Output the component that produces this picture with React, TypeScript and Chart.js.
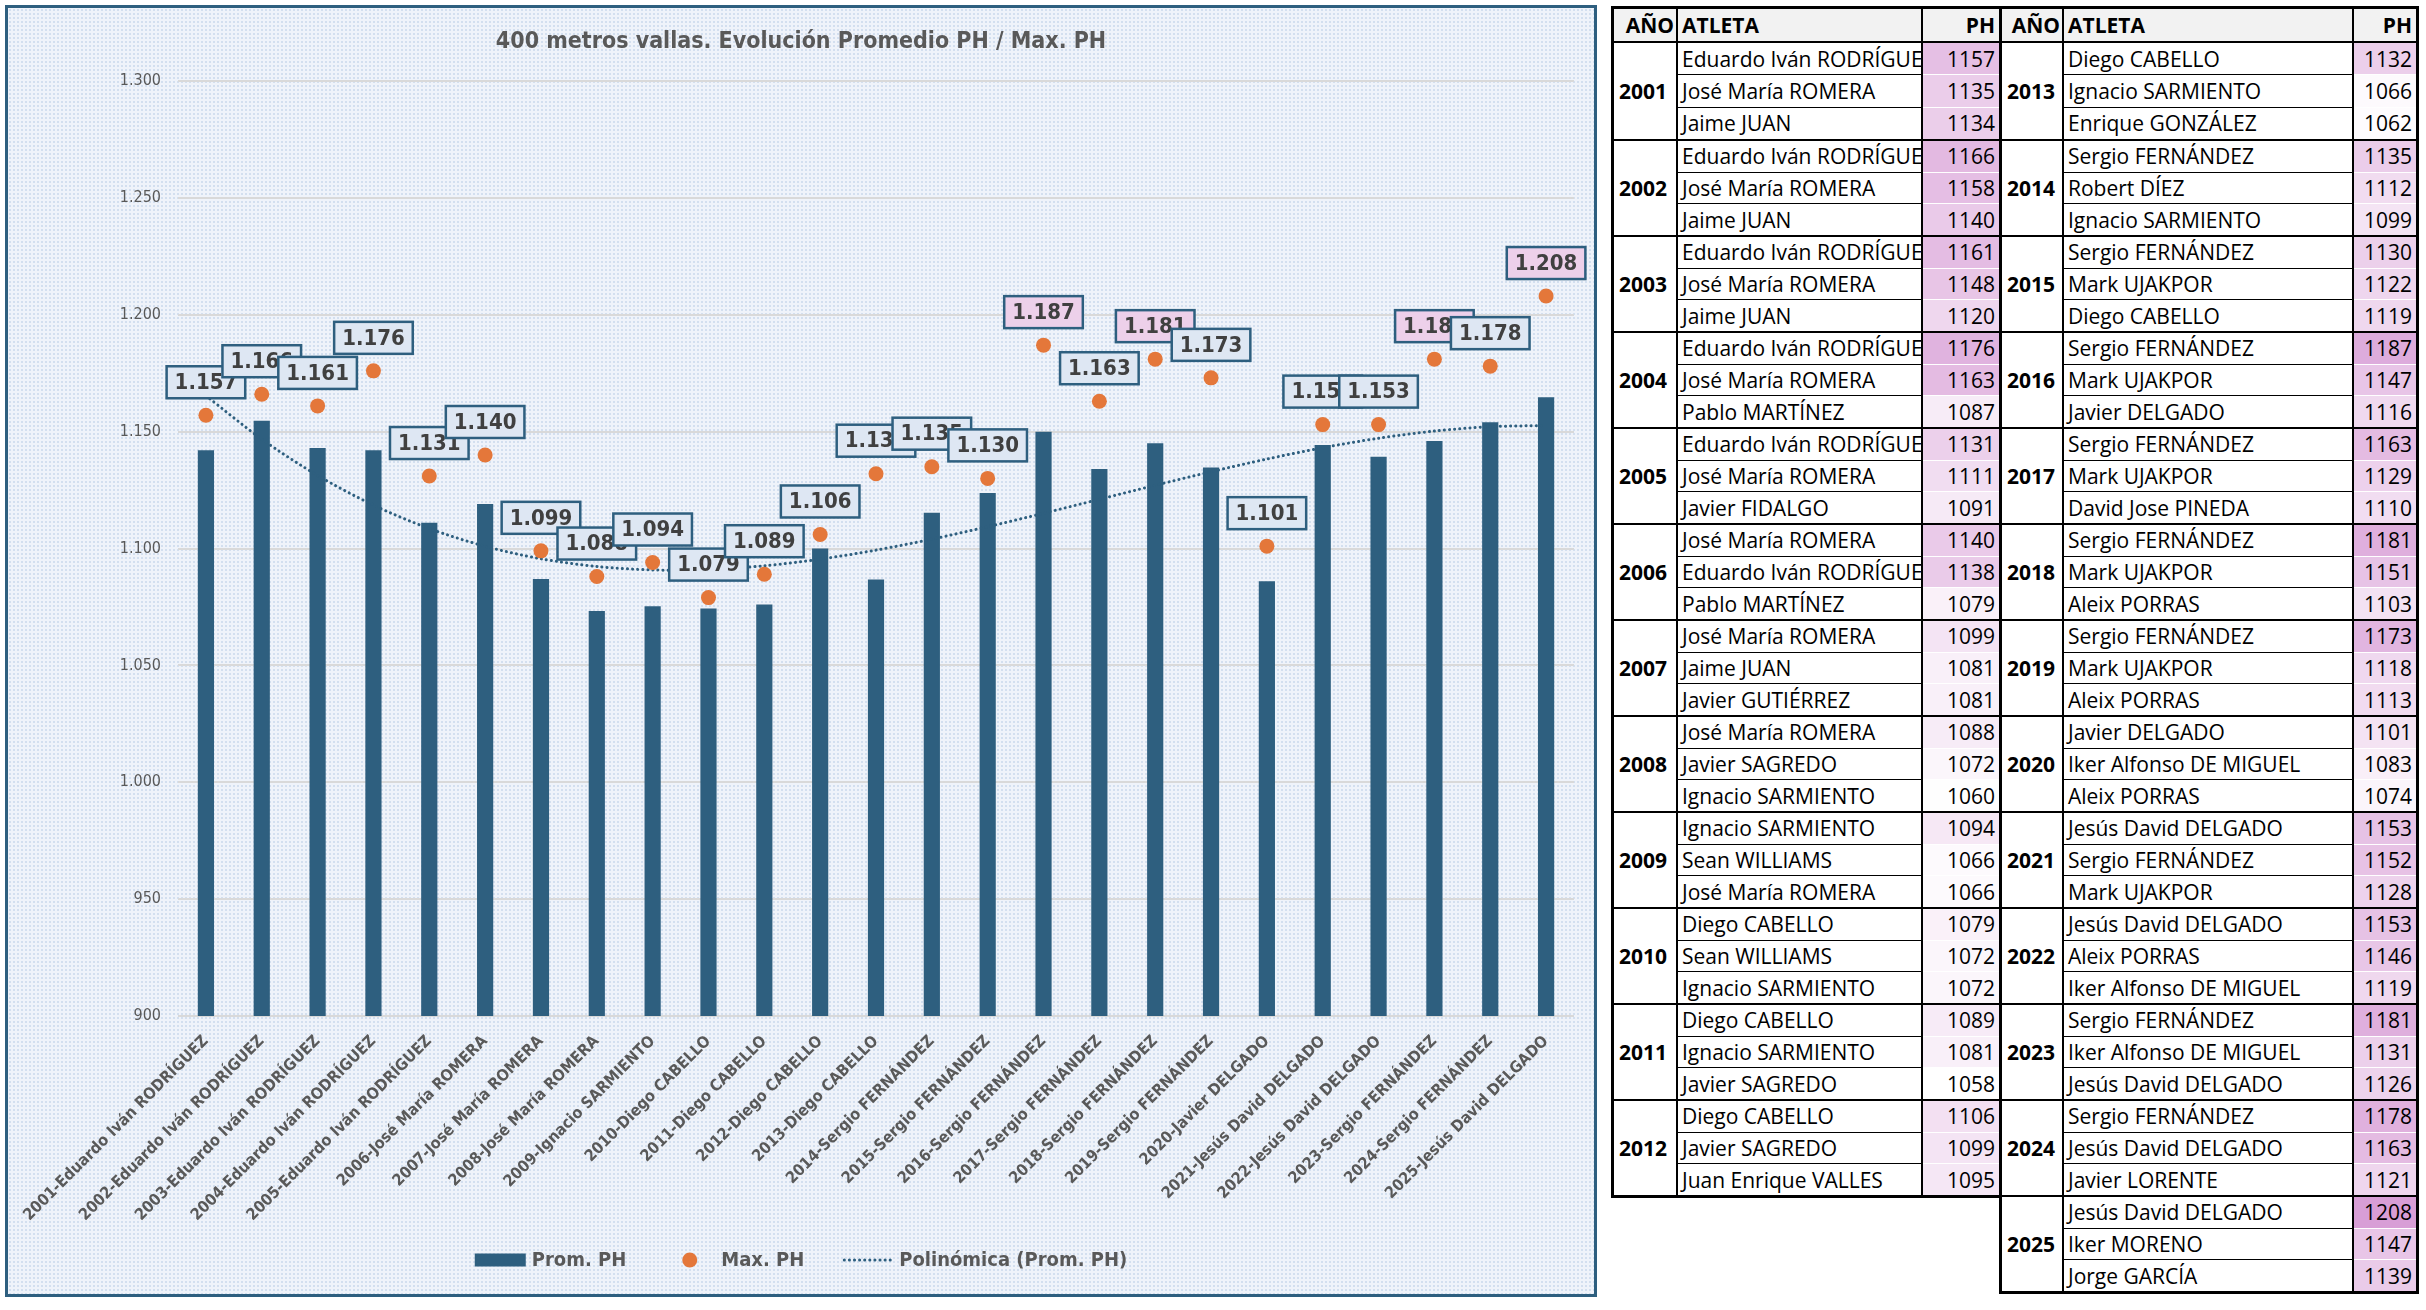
import React, { useEffect, useRef } from "react";
import { Chart, registerables } from "chart.js";

Chart.register(...registerables);

// ---------------- DATA ----------------
const years = [
  "2001", "2002", "2003", "2004", "2005", "2006", "2007", "2008", "2009", "2010",
  "2011", "2012", "2013", "2014", "2015", "2016", "2017", "2018", "2019", "2020",
  "2021", "2022", "2023", "2024", "2025",
];

const firstNames = [
  "Eduardo Iván RODRÍGUEZ", "Eduardo Iván RODRÍGUEZ", "Eduardo Iván RODRÍGUEZ", "Eduardo Iván RODRÍGUEZ",
  "Eduardo Iván RODRÍGUEZ", "José María ROMERA", "José María ROMERA", "José María ROMERA",
  "Ignacio SARMIENTO", "Diego CABELLO", "Diego CABELLO", "Diego CABELLO", "Diego CABELLO",
  "Sergio FERNÁNDEZ", "Sergio FERNÁNDEZ", "Sergio FERNÁNDEZ", "Sergio FERNÁNDEZ", "Sergio FERNÁNDEZ",
  "Sergio FERNÁNDEZ", "Javier DELGADO", "Jesús David DELGADO", "Jesús David DELGADO",
  "Sergio FERNÁNDEZ", "Sergio FERNÁNDEZ", "Jesús David DELGADO",
];
const secondNames = [
  "José María ROMERA", "José María ROMERA", "José María ROMERA", "José María ROMERA", "José María ROMERA",
  "Eduardo Iván RODRÍGUEZ", "Jaime JUAN", "Javier SAGREDO", "Sean WILLIAMS", "Sean WILLIAMS",
  "Ignacio SARMIENTO", "Javier SAGREDO", "Ignacio SARMIENTO", "Robert DÍEZ", "Mark UJAKPOR",
  "Mark UJAKPOR", "Mark UJAKPOR", "Mark UJAKPOR", "Mark UJAKPOR", "Iker Alfonso DE MIGUEL",
  "Sergio FERNÁNDEZ", "Aleix PORRAS", "Iker Alfonso DE MIGUEL", "Jesús David DELGADO", "Iker MORENO",
];
const thirdNames = [
  "Jaime JUAN", "Jaime JUAN", "Jaime JUAN", "Pablo MARTÍNEZ", "Javier FIDALGO",
  "Pablo MARTÍNEZ", "Javier GUTIÉRREZ", "Ignacio SARMIENTO", "José María ROMERA", "Ignacio SARMIENTO",
  "Javier SAGREDO", "Juan Enrique VALLES", "Enrique GONZÁLEZ", "Ignacio SARMIENTO", "Diego CABELLO",
  "Javier DELGADO", "David Jose PINEDA", "Aleix PORRAS", "Aleix PORRAS", "Aleix PORRAS",
  "Mark UJAKPOR", "Iker Alfonso DE MIGUEL", "Jesús David DELGADO", "Javier LORENTE", "Jorge GARCÍA",
];

const firstPH = [1157, 1166, 1161, 1176, 1131, 1140, 1099, 1088, 1094, 1079, 1089, 1106, 1132, 1135, 1130, 1187, 1163, 1181, 1173, 1101, 1153, 1153, 1181, 1178, 1208];
const secondPH = [1135, 1158, 1148, 1163, 1111, 1138, 1081, 1072, 1066, 1072, 1081, 1099, 1066, 1112, 1122, 1147, 1129, 1151, 1118, 1083, 1152, 1146, 1131, 1163, 1147];
const thirdPH = [1134, 1140, 1120, 1087, 1091, 1079, 1081, 1060, 1066, 1072, 1058, 1095, 1062, 1099, 1119, 1116, 1110, 1103, 1113, 1074, 1128, 1119, 1126, 1121, 1139];

// Prom. PH (bars) and Max. PH (points)
const promPH = [1142.0, 1154.7, 1143.0, 1142.0, 1111.0, 1119.0, 1087.0, 1073.3, 1075.3, 1074.3, 1076.0, 1100.0, 1086.7, 1115.3, 1123.7, 1150.0, 1134.0, 1145.0, 1134.7, 1086.0, 1144.3, 1139.3, 1146.0, 1154.0, 1164.7];
const maxPH = firstPH;

const yTicks = [900, 950, 1000, 1050, 1100, 1150, 1200, 1250, 1300];

const chartTitle = "400 metros vallas. Evolución Promedio PH / Max. PH";
const legendLabels = ["Prom. PH", "Max. PH", "Polinómica (Prom. PH)"];
const trendOrder = 3;

// ---------------- HELPERS ----------------
const COND = "'Liberation Sans Narrow', 'DejaVu Sans Condensed', 'Roboto', sans-serif";
const TABLE_FONT = "'Open Sans', 'Noto Sans', sans-serif";
const BAR = "#2E5F7F";
const DOT = "#E4773A";
const GRAY = "#595959";

function fmt(v: number): string {
  const r = Math.round(v);
  if (r >= 1000) return Math.floor(r / 1000) + "." + String(r % 1000).padStart(3, "0");
  return String(r);
}

function polyFit(ys: number[], order: number): number[] {
  const n = ys.length;
  const xs = ys.map((_, i) => i + 1);
  const m = order + 1;
  const A: number[][] = [];
  for (let r = 0; r < m; r++) {
    const row: number[] = [];
    for (let c = 0; c < m; c++) {
      let s = 0;
      for (let i = 0; i < n; i++) s += Math.pow(xs[i], r + c);
      row.push(s);
    }
    let t = 0;
    for (let i = 0; i < n; i++) t += Math.pow(xs[i], r) * ys[i];
    row.push(t);
    A.push(row);
  }
  for (let col = 0; col < m; col++) {
    let piv = col;
    for (let r = col + 1; r < m; r++) if (Math.abs(A[r][col]) > Math.abs(A[piv][col])) piv = r;
    [A[col], A[piv]] = [A[piv], A[col]];
    for (let r = 0; r < m; r++) {
      if (r === col) continue;
      const f = A[r][col] / A[col][col];
      for (let c = col; c <= m; c++) A[r][c] -= f * A[col][c];
    }
  }
  const coef = A.map((row, i) => row[m] / row[i]);
  return xs.map((x) => coef.reduce((s, c, k) => s + c * Math.pow(x, k), 0));
}

const allPH = [...firstPH, ...secondPH, ...thirdPH];
const phMin = Math.min(...allPH);
const phMax = Math.max(...allPH);
function heat(v: number): string {
  const t = (v - phMin) / (phMax - phMin);
  const r = Math.round(255 + (216 - 255) * t);
  const g = Math.round(255 + (158 - 255) * t);
  const b = Math.round(255 + (214 - 255) * t);
  return `rgb(${r},${g},${b})`;
}

// ---------------- PLUGINS ----------------
const titlePlugin = {
  id: "customTitle",
  afterDraw(chart: any) {
    const ctx = chart.ctx;
    ctx.save();
    ctx.font = `bold 23px ${COND}`;
    ctx.fillStyle = GRAY;
    ctx.textAlign = "center";
    ctx.textBaseline = "middle";
    ctx.fillText(chartTitle, chart.width / 2, 34);
    ctx.restore();
  },
};

const labelPlugin = {
  id: "maxLabels",
  afterDatasetsDraw(chart: any) {
    const meta = chart.getDatasetMeta(1);
    const ctx = chart.ctx;
    ctx.save();
    ctx.font = `bold 22px ${COND}`;
    ctx.textAlign = "center";
    ctx.textBaseline = "middle";
    meta.data.forEach((pt: any, i: number) => {
      const v = maxPH[i];
      const text = fmt(v);
      const w = ctx.measureText(text).width + 16;
      const h = 32;
      const cx = pt.x;
      const cy = pt.y - 33;
      ctx.fillStyle = v >= 1180 ? "#EDD0EA" : "#DEE7F3";
      ctx.fillRect(cx - w / 2, cy - h / 2, w, h);
      ctx.strokeStyle = BAR;
      ctx.lineWidth = 2.5;
      ctx.strokeRect(cx - w / 2, cy - h / 2, w, h);
      ctx.fillStyle = "#404040";
      ctx.fillText(text, cx, cy + 1);
    });
    ctx.restore();
  },
};

const legendPlugin = {
  id: "customLegend",
  afterDraw(chart: any) {
    const ctx = chart.ctx;
    ctx.save();
    ctx.font = `bold 20px ${COND}`;
    const sym = 51;
    const gap = 6;
    const itemGap = 38;
    const widths = legendLabels.map((t) => sym + gap + ctx.measureText(t).width);
    const total = widths.reduce((a, b) => a + b, 0) + itemGap * (legendLabels.length - 1);
    let x = chart.width / 2 - total / 2;
    const y = 1252;
    legendLabels.forEach((t, i) => {
      if (i === 0) {
        ctx.fillStyle = BAR;
        ctx.fillRect(x, y - 6.5, sym, 13);
      } else if (i === 1) {
        ctx.fillStyle = DOT;
        ctx.beginPath();
        ctx.arc(x + sym / 2, y, 7.5, 0, Math.PI * 2);
        ctx.fill();
      } else {
        ctx.strokeStyle = BAR;
        ctx.lineWidth = 3;
        ctx.lineCap = "round";
        ctx.setLineDash([0.1, 5]);
        ctx.beginPath();
        ctx.moveTo(x + 2, y);
        ctx.lineTo(x + sym - 2, y);
        ctx.stroke();
        ctx.setLineDash([]);
      }
      ctx.fillStyle = GRAY;
      ctx.textAlign = "left";
      ctx.textBaseline = "middle";
      ctx.fillText(t, x + sym + gap, y + 1);
      x += widths[i] + itemGap;
    });
    ctx.restore();
  },
};

// ---------------- CHART ----------------
function ChartPanel() {
  const ref = useRef<HTMLCanvasElement | null>(null);
  useEffect(() => {
    if (!ref.current) return;
    const labels = years.map((y, i) => `${y}-${firstNames[i]}`);
    const trend = polyFit(promPH, trendOrder);
    const chart = new Chart(ref.current, {
      type: "bar",
      data: {
        labels,
        datasets: [
          {
            type: "bar",
            label: legendLabels[0],
            data: promPH,
            backgroundColor: BAR,
            barPercentage: 0.29,
            categoryPercentage: 1,
            order: 3,
          } as any,
          {
            type: "line",
            label: legendLabels[1],
            data: maxPH,
            showLine: false,
            pointRadius: 7.5,
            pointHoverRadius: 7.5,
            pointBackgroundColor: DOT,
            pointBorderWidth: 0,
            borderColor: DOT,
            order: 1,
          } as any,
          {
            type: "line",
            label: legendLabels[2],
            data: trend,
            borderColor: BAR,
            borderWidth: 3,
            borderDash: [0.1, 5],
            borderCapStyle: "round",
            pointRadius: 0,
            tension: 0.3,
            fill: false,
            order: 2,
          } as any,
        ],
      },
      options: {
        animation: false,
        responsive: true,
        maintainAspectRatio: false,
        layout: { padding: { top: 73, right: 20, left: 0, bottom: 0 } },
        plugins: {
          legend: { display: false },
          tooltip: { enabled: false },
          title: { display: false },
        },
        scales: {
          x: {
            grid: { display: false },
            border: { display: false },
            ticks: {
              autoSkip: false,
              minRotation: 45,
              maxRotation: 45,
              padding: 8,
              color: GRAY,
              font: { family: COND, size: 16, weight: "bold" },
            },
            afterFit(scale: any) {
              scale.height = 278;
              scale.paddingLeft = 0;
              scale.paddingRight = 0;
            },
          },
          y: {
            min: yTicks[0],
            max: yTicks[yTicks.length - 1],
            afterBuildTicks(scale: any) {
              scale.ticks = yTicks.map((v) => ({ value: v }));
            },
            grid: { color: "#D9D9D9", lineWidth: 2, drawTicks: false },
            border: { display: false },
            ticks: {
              padding: 17,
              color: GRAY,
              font: { family: COND, size: 16 },
              callback: (v: any) => fmt(Number(v)),
            },
            afterFit(scale: any) {
              scale.width = 170;
            },
          },
        },
      },
      plugins: [titlePlugin, labelPlugin, legendPlugin],
    });
    return () => chart.destroy();
  }, []);
  return (
    <div
      style={{
        position: "absolute",
        left: 5,
        top: 5,
        width: 1592,
        height: 1292,
        boxSizing: "border-box",
        border: "3px solid #2E5F7F",
        backgroundColor: "#EFF3FA",
        backgroundImage: "radial-gradient(#D3DFEF 0.9px, transparent 1.1px)",
        backgroundSize: "4px 4px",
      }}
    >
      <canvas ref={ref} />
    </div>
  );
}

// ---------------- TABLE ----------------
const ROW_H = 32;
const HEAD_H = 34;

function DataTable(props: { from: number; to: number; left: number; c1: number; c2: number; width: number }) {
  const { from, to, left, c1, c2, width } = props;
  const idx: number[] = [];
  for (let i = from; i <= to; i++) idx.push(i);
  const cellText: React.CSSProperties = {
    whiteSpace: "nowrap",
    overflow: "hidden",
    boxSizing: "border-box",
  };
  return (
    <div
      style={{
        position: "absolute",
        left,
        top: 6,
        width,
        boxSizing: "border-box",
        border: "3px solid #000",
        background: "#fff",
        fontFamily: TABLE_FONT,
        fontSize: 21,
        color: "#000",
      }}
    >
      <div style={{ display: "flex", height: HEAD_H, boxSizing: "border-box", borderBottom: "2px solid #000", background: "#F2F2F2", fontWeight: 700, fontSize: 21, lineHeight: HEAD_H - 2 + "px" }}>
        <div style={{ ...cellText, width: c1, borderRight: "2px solid #000", textAlign: "right", paddingRight: 2 }}>AÑO</div>
        <div style={{ ...cellText, width: c2, borderRight: "2px solid #000", paddingLeft: 4 }}>ATLETA</div>
        <div style={{ ...cellText, flex: 1, textAlign: "right", paddingRight: 4 }}>PH</div>
      </div>
      {idx.map((i, gi) => {
        const names = [firstNames[i], secondNames[i], thirdNames[i]];
        const phs = [firstPH[i], secondPH[i], thirdPH[i]];
        return (
          <div key={i} style={{ display: "flex", height: ROW_H * 3, boxSizing: "border-box", borderTop: gi > 0 ? "2px solid #000" : "none" }}>
            <div style={{ ...cellText, width: c1, borderRight: "2px solid #000", display: "flex", alignItems: "center", paddingLeft: 5, fontWeight: 700, fontSize: 21 }}>
              {years[i]}
            </div>
            <div style={{ width: c2, borderRight: "2px solid #000", boxSizing: "border-box", display: "flex", flexDirection: "column" }}>
              {names.map((n, k) => (
                <div key={k} style={{ ...cellText, flex: 1, borderTop: k > 0 ? "1.5px solid #000" : "none", paddingLeft: 4, display: "flex", alignItems: "center" }}>
                  {n}
                </div>
              ))}
            </div>
            <div style={{ flex: 1, display: "flex", flexDirection: "column" }}>
              {phs.map((p, k) => (
                <div key={k} style={{ ...cellText, flex: 1, background: heat(p), borderTop: k > 0 ? "1px solid #fff" : "none", textAlign: "right", paddingRight: 4, display: "flex", alignItems: "center", justifyContent: "flex-end" }}>
                  {p}
                </div>
              ))}
            </div>
          </div>
        );
      })}
    </div>
  );
}

export default function App() {
  return (
    <div style={{ position: "absolute", left: 0, top: 0, width: 2426, height: 1310, background: "#fff", overflow: "hidden" }}>
      <ChartPanel />
      <DataTable from={0} to={11} left={1611} c1={64} c2={245} width={391} />
      <DataTable from={12} to={24} left={1999} c1={62} c2={290} width={420} />
    </div>
  );
}
